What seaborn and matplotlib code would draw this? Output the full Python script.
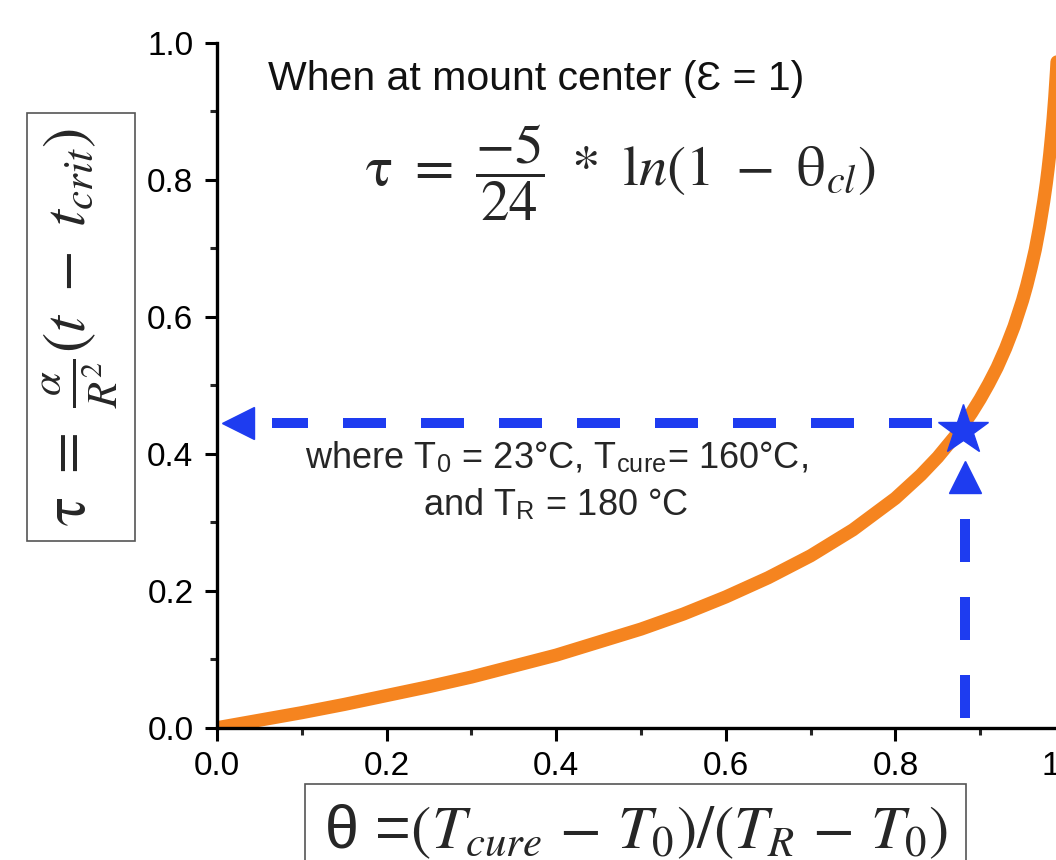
import numpy as np
import pandas as pd
import seaborn as sns
import matplotlib.pyplot as plt

# curve (theta_cl vs tau)
theta_cl = [0.0, 0.05, 0.10, 0.15, 0.20, 0.25, 0.30, 0.35, 0.40, 0.45, 0.50,
            0.55, 0.60, 0.65, 0.70, 0.75, 0.80, 0.83, 0.85, 0.87, 0.88, 0.89,
            0.90, 0.91, 0.92, 0.93, 0.94, 0.95, 0.955, 0.96, 0.965, 0.97, 0.975,
            0.978, 0.98, 0.982, 0.984, 0.986, 0.988, 0.99, 0.991, 0.992]
tau = [0.0, 0.011, 0.022, 0.034, 0.047, 0.060, 0.074, 0.090, 0.106, 0.125, 0.144,
       0.166, 0.191, 0.219, 0.251, 0.289, 0.335, 0.369, 0.395, 0.425, 0.442, 0.460,
       0.480, 0.502, 0.526, 0.554, 0.586, 0.624, 0.646, 0.671, 0.698, 0.731, 0.769,
       0.795, 0.815, 0.837, 0.862, 0.889, 0.921, 0.959, 0.981, 1.006]

# highlighted point
point_theta = 0.88
point_tau = 0.435
guide_tau = 0.445

x_ticks = [0.0, 0.2, 0.4, 0.6, 0.8, 1.0]
y_ticks = [0.0, 0.2, 0.4, 0.6, 0.8, 1.0]

orange = '#f5841f'
blue = '#1e3cf0'

sns.set_style('ticks')
plt.rcParams['font.family'] = ['Liberation Sans', 'DejaVu Sans']
plt.rcParams['mathtext.fontset'] = 'stix'

fig = plt.figure(figsize=(10.56, 8.6), dpi=100)
ax = fig.add_axes([0.2055, 0.1538, 0.803, 0.7965])

df = pd.DataFrame({'theta': theta_cl, 'tau': tau})
sns.lineplot(data=df, x='theta', y='tau', ax=ax, color=orange, lw=9.5, sort=True)

# guide arrows to the point
ax.plot([0.843, 0.065], [guide_tau, guide_tau], color=blue, lw=7.2, dashes=(4.3, 3.5))
ax.plot([0.025], [guide_tau], marker='<', ms=23, color=blue, clip_on=False)
ax.plot([point_theta + 0.002, point_theta + 0.002], [0.014, 0.34], color=blue, lw=7.2,
        dashes=(4.3, 3.5))
ax.plot([point_theta + 0.002], [0.366], marker='^', ms=23, color=blue)
ax.plot([point_theta], [point_tau], marker='*', ms=38, color=blue, mec=blue, zorder=5)

ax.set_xlim(0, 1)
ax.set_ylim(0, 1)
ax.set_xticks(x_ticks)
ax.set_yticks(y_ticks)
ax.set_xticks(np.arange(0.1, 1.0, 0.2), minor=True)
ax.set_yticks(np.arange(0.1, 1.0, 0.2), minor=True)
ax.xaxis.set_major_formatter(plt.FormatStrFormatter('%.1f'))
ax.yaxis.set_major_formatter(plt.FormatStrFormatter('%.1f'))
ax.tick_params(which='major', length=9, width=2.2, labelsize=24, pad=8, colors='black')
ax.tick_params(which='minor', length=5, width=2.2)
ax.set_xlabel('')
ax.set_ylabel('')
sns.despine(ax=ax)
for s in ['left', 'bottom']:
    ax.spines[s].set_linewidth(2.4)
    ax.spines[s].set_color('black')

# texts
fig.text(0.508, 0.8953, 'When at mount center (Ɛ = 1)', fontsize=29.5, ha='center',
         va='baseline', color='#111111')
fig.text(0.587, 0.799, r'$\mathrm{\tau}\ =\ \dfrac{-5}{24}\ *\ \mathrm{l}n(1\ -\ \mathrm{\theta}_{cl})$',
         fontsize=41, ha='center', va='center', math_fontfamily='stix')
fig.text(0.5265, 0.4558, r'where T$_\mathregular{0}$ = 23°C, T$_\mathregular{cure}$= 160°C,',
         fontsize=26, ha='center', va='baseline')
fig.text(0.5265, 0.401, r'and T$_\mathregular{R}$ = 180 °C', fontsize=26, ha='center',
         va='baseline')

fig.text(0.0767, 0.6198, r'$\mathrm{\tau}\ =\ \frac{\alpha}{R^2}(t\ -\ t_{crit})$',
         fontsize=44, rotation=90, ha='center', va='center', math_fontfamily='stix',
         bbox=dict(boxstyle='square,pad=0.25', fc='white', ec='#555555', lw=1.2))
fig.text(0.602, 0.033, r'θ =$(T_{cure}\,-\,T_0)/(T_R\,-\,T_0)$', fontsize=44, ha='center',
         va='center', math_fontfamily='stix',
         bbox=dict(boxstyle='square,pad=0.3', fc='white', ec='#555555', lw=1.2))

fig.savefig('out.png', dpi=100)
